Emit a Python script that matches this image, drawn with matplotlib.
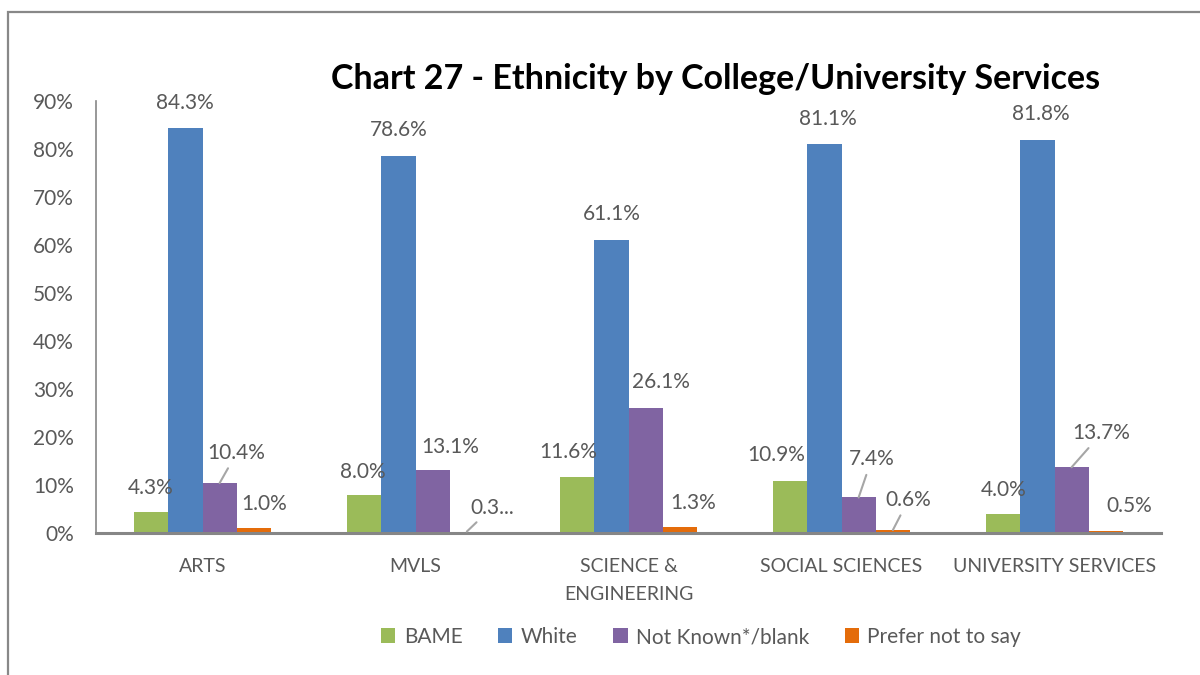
import matplotlib
matplotlib.use("Agg")
import matplotlib.pyplot as plt
import numpy as np
from matplotlib.patches import Rectangle

plt.rcParams['font.family'] = ['Lato', 'DejaVu Sans']

categories = ["ARTS", "MVLS", "SCIENCE &\nENGINEERING", "SOCIAL SCIENCES", "UNIVERSITY SERVICES"]
series_names = ["BAME", "White", "Not Known*/blank", "Prefer not to say"]
bame = [4.3, 8.0, 11.6, 10.9, 4.0]
white = [84.3, 78.6, 61.1, 81.1, 81.8]
not_known = [10.4, 13.1, 26.1, 7.4, 13.7]
prefer_not = [1.0, 0.3, 1.3, 0.6, 0.5]
y_ticks = [0, 10, 20, 30, 40, 50, 60, 70, 80, 90]
title = "Chart 27 - Ethnicity by College/University Services"

colors = ["#9BBB59", "#4F81BD", "#8064A2", "#E46C0A"]
text_col = "#595959"

# label offsets in pixels (dx, dy) from bar top, and whether a leader line is drawn
offsets = [
    [(-0.5, 24.5), (-1, 23), (-9, 25), (-13.5, 26), (0, 24)],
    [(-1, 25), (0, 26), (0, 26), (3, 25), (3.5, 26)],
    [(17, 30), (18, 23), (15.5, 26), (13, 38), (30, 34)],
    [(10.5, 24), (25, 24), (13, 24), (15.5, 30), (23, 25)],
]
leaders = [
    [False] * 5,
    [False] * 5,
    [True, False, False, True, True],
    [False, True, False, True, False],
]
truncated = {(3, 1): "0.3..."}

fig = plt.figure(figsize=(12, 6.75), dpi=100)
ax = fig.add_axes([96 / 1200, 1 - 533 / 675, (1161 - 96) / 1200, (533 - 101) / 675])

# outer chart frame (cut off on the right and bottom like the screenshot)
fig.patches.append(Rectangle((8 / 1200, -0.1), 1.2, 1 - 12 / 675 + 0.1,
                             transform=fig.transFigure, fill=False,
                             edgecolor="#888888", linewidth=1.6))

x = np.arange(len(categories))
w = 0.1607
data = [bame, white, not_known, prefer_not]
for i, (vals, name, c) in enumerate(zip(data, series_names, colors)):
    pos = x + (i - 1.5) * w
    ax.bar(pos, vals, width=w, color=c, label=name, linewidth=0)
    for j, (px, v) in enumerate(zip(pos, vals)):
        txt = truncated.get((i, j), f"{v:.1f}%")
        dx, dy = offsets[i][j]
        kw = {}
        if leaders[i][j]:
            kw["arrowprops"] = dict(arrowstyle="-", color="#A6A6A6", lw=1.5,
                                    shrinkA=2, shrinkB=0)
        ax.annotate(txt, xy=(px, v), xytext=(dx, dy), textcoords="offset pixels",
                    ha="center", va="center", fontsize=15, color=text_col, **kw)

ax.set_xlim(-0.5, 4.5)
ax.set_ylim(0, 90)
ax.set_yticks(y_ticks)
ax.set_yticklabels([f"{t}%" for t in y_ticks])
ax.set_xticks(x)
ax.set_xticklabels(categories, linespacing=1.75)
ax.tick_params(axis="y", length=0, pad=16, labelsize=15, labelcolor=text_col)
ax.tick_params(axis="x", length=0, pad=18, labelsize=14, labelcolor=text_col)

for s in ["top", "right"]:
    ax.spines[s].set_visible(False)
ax.spines["left"].set_color("#868686")
ax.spines["left"].set_linewidth(1.2)
ax.spines["bottom"].set_color("#868686")
ax.spines["bottom"].set_linewidth(2.2)

fig.text(716 / 1200, 1 - 79 / 675, title, ha="center", va="center",
         fontsize=24.5, fontweight="bold", color="black")

fig.legend(loc="center", bbox_to_anchor=(701 / 1200, 1 - 637 / 675), ncol=4,
           frameon=False, fontsize=15, handlelength=0.7, handleheight=0.7,
           handletextpad=0.4, columnspacing=1.7, labelcolor=text_col)

fig.savefig("out.png", dpi=100)
